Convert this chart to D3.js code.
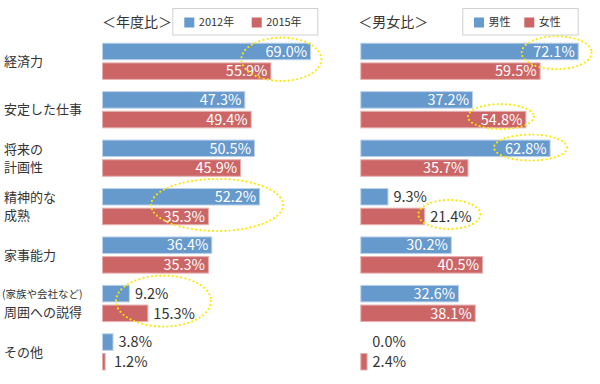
<!DOCTYPE html>
<html>
<head>
<meta charset="utf-8">
<script src="https://cdn.jsdelivr.net/npm/d3@7/dist/d3.min.js"></script>
<style>
  html, body { margin: 0; padding: 0; background: #fff; }
  svg { display: block; font-family: "Noto Sans CJK JP", "Noto Sans", sans-serif; }
</style>
</head>
<body>
<svg id="chart" width="600" height="384"></svg>
<script>
// ---- data ----
const categories = [
  ["経済力"],
  ["安定した仕事"],
  ["将来の", "計画性"],
  ["精神的な", "成熟"],
  ["家事能力"],
  ["(家族や会社など)", "周囲への説得"],
  ["その他"]
];
const catKeys = categories.map(c => c.join(""));
const yearSeries = ["2012年", "2015年"];
const year2012 = [69.0, 47.3, 50.5, 52.2, 36.4, 9.2, 3.8];
const year2015 = [55.9, 49.4, 45.9, 35.3, 35.3, 15.3, 1.2];
const genderSeries = ["男性", "女性"];
const male = [72.1, 37.2, 62.8, 9.3, 30.2, 32.6, 0.0];
const female = [59.5, 54.8, 35.7, 21.4, 40.5, 38.1, 2.4];
const panelTitles = ["＜年度比＞", "＜男女比＞"];
// highlighted (circled) values: panel, category index, centre value (%), series offset
const highlights = [
  { panel: 0, cat: 0, cx: 59.2, dy: 16.6, rx: 40, ry: 21.7 },
  { panel: 0, cat: 3, cx: 38.0, dy: 17.0, rx: 66, ry: 26 },
  { panel: 0, cat: 5, cx: 20.3, dy: 16.2, rx: 47.5, ry: 25.5 },
  { panel: 1, cat: 0, cx: 64.8, dy: 10.0, rx: 35, ry: 16.5 },
  { panel: 1, cat: 1, cx: 46.4, dy: 25.5, rx: 33, ry: 12.5 },
  { panel: 1, cat: 2, cx: 56.2, dy: 8.0, rx: 36.5, ry: 13 },
  { panel: 1, cat: 3, cx: 29.4, dy: 26.5, rx: 31, ry: 14.5 }
];

// ---- styles ----
const fills = ["#6699CC", "#CC6666"];
const strokes = ["#bcd2ea", "#e6b0b0"];
const textDark = "#333333";

const svg = d3.select("#chart");

const y = d3.scaleBand().domain(catKeys).range([42.7, 370.5]).paddingInner(0.232).paddingOuter(0);
const ySub = d3.scaleBand().domain([0, 1]).range([0, y.bandwidth()]).paddingInner(0.11);
const x = d3.scaleLinear().domain([0, 100]).range([0, 303]);

const panels = [
  { x0: 102, series: yearSeries, values: [year2012, year2015],
    legend: { x: 172.3, w: 145, items: [184.3, 251.7] } },
  { x0: 360.3, series: genderSeries, values: [male, female],
    legend: { x: 462.3, w: 115.4, items: [474, 524.3] } }
];

// category labels
const catG = svg.append("g");
categories.forEach((lines, i) => {
  const cy = y(catKeys[i]) + y.bandwidth() / 2;
  const n = lines.length;
  lines.forEach((ln, j) => {
    const small = ln.startsWith("(");
    catG.append("text")
      .attr("x", small ? 2 : 4)
      .attr("y", cy + (n === 1 ? 0 : (j === 0 ? -9 : 9)))
      .attr("dy", "0.36em")
      .attr("font-size", small ? 10.5 : 13)
      .attr("fill", textDark)
      .text(ln);
  });
});

panels.forEach((p, pi) => {
  const g = svg.append("g").attr("transform", `translate(${p.x0},0)`);
  // title
  svg.append("text")
    .attr("x", p.x0 - (pi === 1 ? 2 : 0))
    .attr("y", 21.7).attr("dy", "0.36em")
    .attr("font-size", 14).attr("fill", textDark)
    .text(panelTitles[pi]);
  // legend
  const lg = svg.append("g");
  lg.append("rect").attr("x", p.legend.x + 0.5).attr("y", 8.5)
    .attr("width", p.legend.w).attr("height", 26.5)
    .attr("fill", "#fff").attr("stroke", "#d0d0d0");
  p.series.forEach((s, si) => {
    const lx = p.legend.items[si];
    lg.append("rect").attr("x", lx).attr("y", 17.5).attr("width", 10).attr("height", 10)
      .attr("fill", fills[si]);
    lg.append("text").attr("x", lx + 14.5).attr("y", 22.5).attr("dy", "0.36em")
      .attr("font-size", 11).attr("fill", textDark).text(s);
  });
  // bars
  p.values.forEach((vals, si) => {
    vals.forEach((v, i) => {
      const by = y(catKeys[i]) + ySub(si);
      const bh = ySub.bandwidth();
      g.append("rect")
        .attr("x", 0.5).attr("y", by + 0.5)
        .attr("width", Math.max(0, x(v) - 1)).attr("height", bh - 1)
        .attr("fill", fills[si]).attr("stroke", strokes[si]).attr("stroke-width", 1);
      const inside = v >= 25;
      const lbl = v.toFixed(1) + "%";
      g.append("text")
        .attr("x", inside ? x(v) - 4 : Math.max(x(v) + 5, 12))
        .attr("y", by + bh / 2).attr("dy", "0.36em")
        .attr("text-anchor", inside ? "end" : "start")
        .attr("font-size", 14.5)
        .attr("fill", inside ? "#ffffff" : textDark)
        .text(lbl);
    });
  });
});

// highlight ellipses
highlights.forEach(h => {
  const p = panels[h.panel];
  svg.append("ellipse")
    .attr("cx", p.x0 + x(h.cx))
    .attr("cy", y(catKeys[h.cat]) + h.dy)
    .attr("rx", h.rx).attr("ry", h.ry)
    .attr("fill", "none")
    .attr("stroke", "#FFE800")
    .attr("stroke-width", 2.2)
    .attr("stroke-linecap", "round")
    .attr("stroke-dasharray", "0 4.2");
});
</script>
</body>
</html>
